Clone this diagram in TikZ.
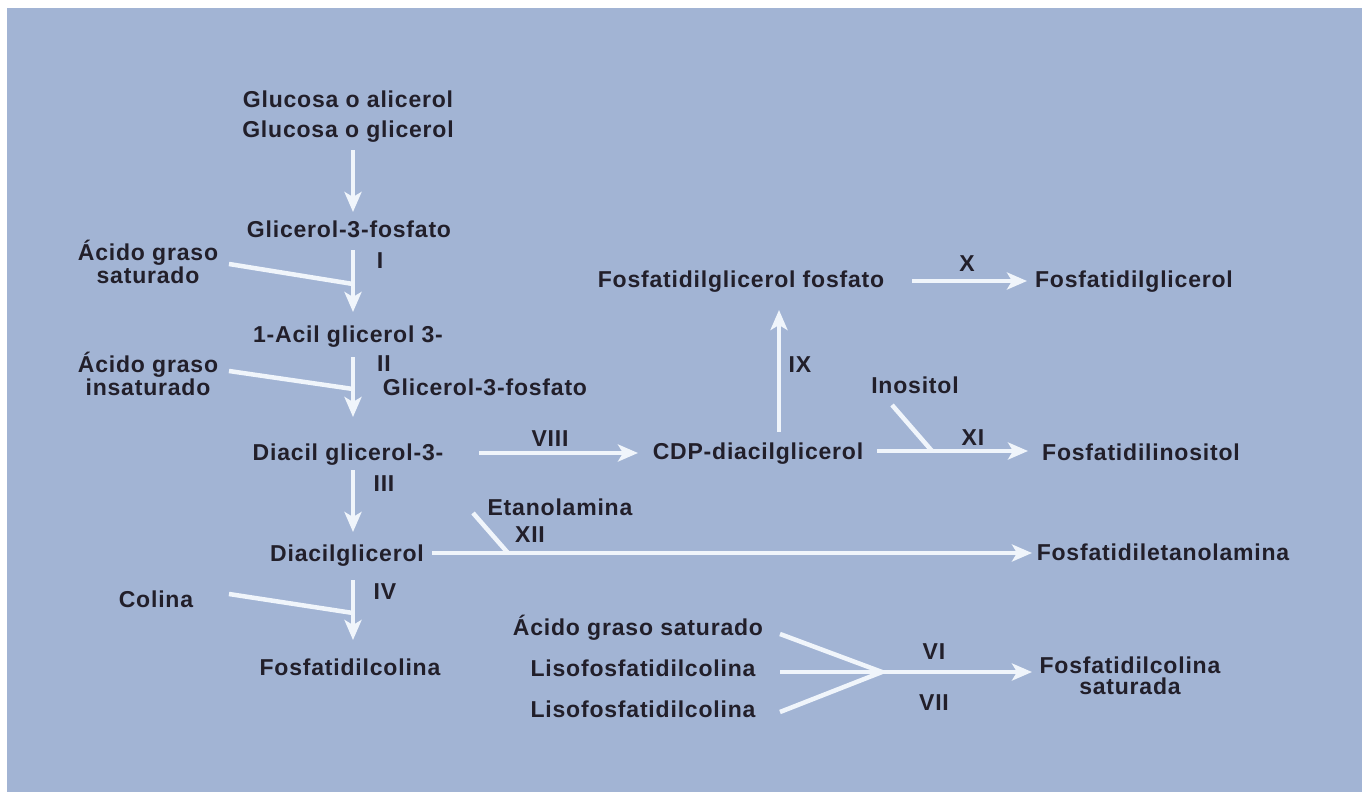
\documentclass[tikz,border=0pt]{standalone}
\usepackage{fontspec}
\setmainfont{Liberation Sans}[LetterSpace=3.5]
\usetikzlibrary{arrows.meta}
\definecolor{bgc}{RGB}{162,180,212}
\definecolor{ink}{RGB}{34,31,42}
\definecolor{linec}{RGB}{240,245,251}
\tikzset{
  lbl/.style={anchor=base, inner sep=0pt, text=ink, align=center,
    font=\fontsize{23}{21}\selectfont\bfseries},
  arr/.style={draw=linec, line width=4.5pt, -{Stealth[length=20pt,width=17pt,inset=5pt]}},
  feed/.style={draw=linec, line width=4.5pt},
}
\begin{document}
\begin{tikzpicture}[x=1pt,y=-1pt]
\useasboundingbox (0,0) rectangle (1362,792);
\fill[white] (0,0) rectangle (1362,792);
\fill[bgc] (7,8) rectangle (1362,792);

% labels
\node[lbl] (glu1) at (348,107) {Glucosa o alicerol};
\node[lbl] (glu2) at (348,137) {Glucosa o glicerol};
\node[lbl] (g3p) at (349,237) {Glicerol-3-fosfato};
\node[lbl] (rI) at (380,268) {I};
\node[lbl] (ags) at (148,283) {Ácido graso\\saturado};
\node[lbl] (acil) at (348,342) {1-Acil glicerol 3-};
\node[lbl] (rII) at (384,371) {II};
\node[lbl] (g3pb) at (485,395) {Glicerol-3-fosfato};
\node[lbl] (agi) at (148,395) {Ácido graso\\insaturado};
\node[lbl] (dg3) at (348,460) {Diacil glicerol-3-};
\node[lbl] (rVIII) at (550,446) {VIII};
\node[lbl] (cdp) at (758,459) {CDP-diacilglicerol};
\node[lbl] (rIX) at (800,372) {IX};
\node[lbl] (pgp) at (741,287) {Fosfatidilglicerol fosfato};
\node[lbl] (rX) at (967,271) {X};
\node[lbl] (pg) at (1134,287) {Fosfatidilglicerol};
\node[lbl] (inos) at (915,393) {Inositol};
\node[lbl] (rXI) at (973,445) {XI};
\node[lbl] (pi) at (1141,460) {Fosfatidilinositol};
\node[lbl] (rIII) at (384,491) {III};
\node[lbl] (dag) at (347,561) {Diacilglicerol};
\node[lbl] (etan) at (560,515) {Etanolamina};
\node[lbl] (rXII) at (530,542) {XII};
\node[lbl] (pe) at (1163,560) {Fosfatidiletanolamina};
\node[lbl] (rIV) at (385,599) {IV};
\node[lbl] (col) at (156,607) {Colina};
\node[lbl] (pc) at (350,675) {Fosfatidilcolina};
\node[lbl] (ags2) at (638,635) {Ácido graso saturado};
\node[lbl] (lpc1) at (643,676) {Lisofosfatidilcolina};
\node[lbl] (lpc2) at (643,717) {Lisofosfatidilcolina};
\node[lbl] (rVI) at (934,659) {VI};
\node[lbl] (rVII) at (934,710) {VII};
\node[lbl] (pcs) at (1130,694) {Fosfatidilcolina\\saturada};

% connector end points
\coordinate (a0) at (353,150); \coordinate (a1) at (353,212);
\coordinate (b0) at (353,250); \coordinate (b1) at (353,312);
\coordinate (bf0) at (229,264); \coordinate (bf1) at (353,284);
\coordinate (c0) at (353,357); \coordinate (c1) at (353,417);
\coordinate (cf0) at (229,371); \coordinate (cf1) at (353,389);
\coordinate (d0) at (353,470); \coordinate (d1) at (353,532);
\coordinate (e0) at (353,580); \coordinate (e1) at (353,640);
\coordinate (ef0) at (229,594); \coordinate (ef1) at (353,613);
\coordinate (v0) at (479,453); \coordinate (v1) at (638,453);
\coordinate (n0) at (779,432); \coordinate (n1) at (779,310);
\coordinate (x0) at (912,281); \coordinate (x1) at (1027,281);
\coordinate (xi0) at (877,451); \coordinate (xi1) at (1028,451);
\coordinate (xif0) at (892,405); \coordinate (xif1) at (932,451);
\coordinate (xii0) at (432,553); \coordinate (xii1) at (1032,553);
\coordinate (xiif0) at (473,513); \coordinate (xiif1) at (508,553);
\coordinate (s0) at (780,634); \coordinate (s1) at (780,672); \coordinate (s2) at (780,712);
\coordinate (sj) at (882,672); \coordinate (st) at (1032,672);

% connectors
\draw[arr] (a0) -- (a1);
\draw[arr] (b0) -- (b1);
\draw[feed] (bf0) -- (bf1);
\draw[arr] (c0) -- (c1);
\draw[feed] (cf0) -- (cf1);
\draw[arr] (d0) -- (d1);
\draw[arr] (e0) -- (e1);
\draw[feed] (ef0) -- (ef1);
\draw[arr] (v0) -- (v1);
\draw[arr] (n0) -- (n1);
\draw[arr] (x0) -- (x1);
\draw[arr] (xi0) -- (xi1);
\draw[feed] (xif0) -- (xif1);
\draw[arr] (xii0) -- (xii1);
\draw[feed] (xiif0) -- (xiif1);
\draw[feed] (s0) -- (sj);
\draw[feed] (s2) -- (sj);
\draw[arr] (s1) -- (st);
\end{tikzpicture}
\end{document}
